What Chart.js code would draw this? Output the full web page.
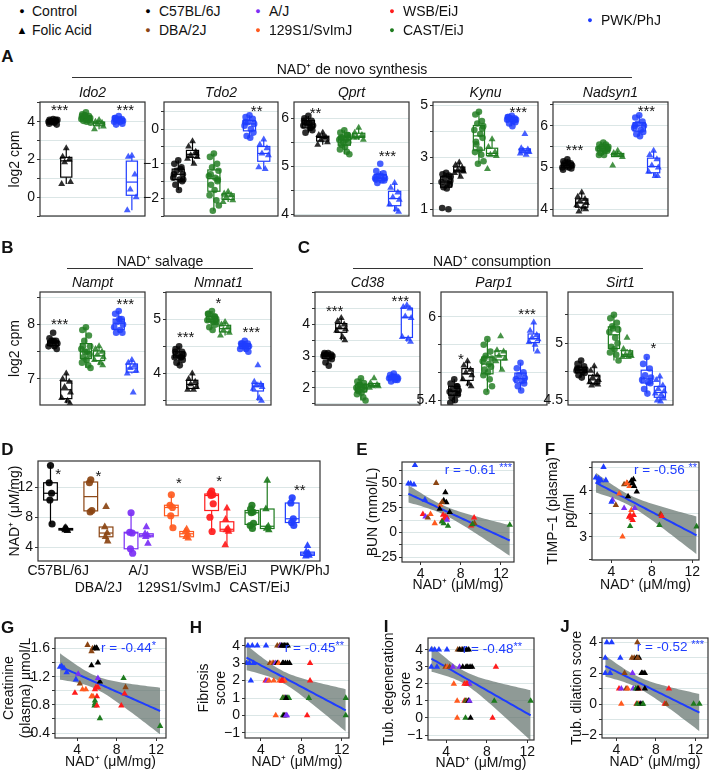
<!DOCTYPE html>
<html>
<head>
<meta charset="utf-8">
<script src="https://cdn.jsdelivr.net/npm/chart.js@4.4.1/dist/chart.umd.min.js"></script>
<style>
  body { margin: 0; width: 712px; height: 773px; position: relative; overflow: hidden; background: #fff;
         font-family: "Liberation Sans", Arial, Helvetica, sans-serif; color: #111; }
  canvas { position: absolute; }
  .t { position: absolute; white-space: nowrap; line-height: 1; }
  .rule { position: absolute; height: 0; border-top: 1.3px solid #333; }
</style>
</head>
<body>
<script>
// ---- strains ----
const STRAIN_NAMES = ['C57BL/6J', 'DBA/2J', 'A/J', '129S1/SvImJ', 'WSB/EiJ', 'CAST/EiJ', 'PWK/PhJ'];
const STRAIN_COLORS = ['#000000', '#8B4513', '#7B2FF5', '#FF5A1F', '#FF1C1C', '#1E7B1E', '#1F3DFF'];
const GENE_STRAINS = [0, 5, 6];   // C57BL/6J, CAST/EiJ, PWK/PhJ

// ---- A: NAD+ de novo synthesis (log2 cpm) ----
// group order: C57 ctrl, C57 FA, CAST ctrl, CAST FA, PWK ctrl, PWK FA
const ido2 = [
  [4.15, 4.1, 4.05, 4.0, 4.1, 4.0, 3.95, 3.85, 4.05, 4.0, 3.9, 4.1],
  [2.6, 2.15, 2.0, 1.85, 0.8, 0.7],
  [4.5, 4.4, 4.3, 4.25, 4.2, 4.15, 4.1, 4.1, 4.05, 4.0, 4.3, 4.2, 3.95, 4.35],
  [4.1, 4.0, 3.95, 3.9, 3.75, 3.6],
  [4.3, 4.2, 4.15, 4.1, 4.05, 4.0, 4.0, 3.9, 3.85, 4.1, 4.2],
  [2.2, 2.15, 1.2, 0.4, 0.0, -0.7]
];
const ido2Stars = [[1, 4.8, '***'], [3, 4.8, '***']];

const tdo2 = [
  [-0.9, -1.0, -1.1, -1.2, -1.3, -1.4, -1.45, -1.5, -1.6, -1.75, -1.3, -1.15, -1.45],
  [-0.35, -0.5, -0.65, -0.75, -0.8, -0.85, -1.0, -0.7],
  [-0.7, -0.8, -1.0, -1.1, -1.2, -1.35, -1.4, -1.45, -1.6, -1.75, -1.9, -2.05, -2.2, -2.35, -1.3, -1.5],
  [-1.8, -1.85, -1.9, -1.95, -2.05, -2.1],
  [0.4, 0.35, 0.3, 0.2, 0.15, 0.1, 0.0, -0.1, -0.2, -0.25, 0.2],
  [-0.3, -0.45, -0.55, -0.7, -0.75, -1.1, -1.15]
];
const tdo2Stars = [[3, 0.63, '**']];

const qprt = [
  [6.05, 6.0, 5.95, 5.9, 5.85, 5.85, 5.8, 5.75, 5.7, 5.9, 5.95, 5.8],
  [5.7, 5.65, 5.6, 5.55, 5.5, 5.45, 5.6],
  [5.75, 5.7, 5.65, 5.6, 5.6, 5.55, 5.55, 5.5, 5.45, 5.4, 5.35, 5.3, 5.25, 5.5, 5.6, 5.65],
  [5.8, 5.7, 5.65, 5.6, 5.55, 5.6],
  [5.05, 4.9, 4.85, 4.8, 4.75, 4.75, 4.7, 4.7, 4.65, 4.8, 4.72],
  [4.65, 4.55, 4.45, 4.35, 4.3, 4.2, 4.1, 4.05]
];
const qprtStars = [[1, 6.19, '**'], [3, 5.28, '***']];

const kynu = [
  [2.4, 2.35, 2.3, 2.2, 2.1, 2.05, 2.0, 1.95, 1.85, 1.8, 1.05, 1.0, 2.25],
  [2.8, 2.7, 2.6, 2.5, 2.45, 2.4, 2.25, 2.5],
  [4.75, 4.65, 4.4, 4.3, 4.2, 4.05, 3.9, 3.75, 3.5, 3.3, 3.2, 3.1, 2.85, 2.75, 3.6, 4.1],
  [3.7, 3.4, 3.2, 3.1, 3.05, 2.55],
  [4.6, 4.55, 4.5, 4.5, 4.45, 4.45, 4.4, 4.35, 4.3, 4.2, 4.55],
  [3.9, 3.35, 3.3, 3.25, 3.2, 3.15, 3.1]
];
const kynuStars = [[3, 4.87, '***']];

const nadsyn1 = [
  [5.2, 5.15, 5.1, 5.05, 5.05, 5.0, 5.0, 4.98, 5.1, 5.12, 4.95],
  [4.4, 4.3, 4.25, 4.2, 4.15, 4.1, 4.05, 4.0, 3.95],
  [5.6, 5.55, 5.5, 5.5, 5.45, 5.45, 5.4, 5.4, 5.35, 5.3, 5.3, 5.55, 5.5, 5.45],
  [5.4, 5.35, 5.3, 5.3, 5.25, 5.05],
  [6.25, 6.2, 6.1, 6.05, 6.0, 5.95, 5.9, 5.85, 5.8, 5.75, 6.0],
  [5.4, 5.3, 5.2, 5.05, 5.0, 4.9, 4.8, 4.8]
];
const nadsyn1Stars = [[1, 5.51, '***'], [3, 6.45, '***']];

// ---- B: NAD+ salvage ----
const nampt = [
  [7.85, 7.75, 7.7, 7.7, 7.65, 7.6, 7.6, 7.55, 7.65, 7.7],
  [7.1, 7.0, 6.95, 6.85, 6.75, 6.65, 6.6, 6.55],
  [7.95, 7.9, 7.8, 7.7, 7.6, 7.55, 7.5, 7.45, 7.4, 7.35, 7.3, 7.25, 7.2, 7.5, 7.6],
  [7.6, 7.55, 7.5, 7.45, 7.4, 7.35, 7.3, 7.25],
  [8.25, 8.2, 8.1, 8.05, 8.0, 7.95, 7.9, 7.85, 7.85, 8.1],
  [7.35, 7.3, 7.25, 7.2, 7.15, 7.1, 6.75]
];
const namptStars = [[1, 8.08, '***'], [3, 8.44, '***']];

const nmnat1 = [
  [4.5, 4.45, 4.4, 4.35, 4.35, 4.3, 4.3, 4.25, 4.2, 4.15, 4.4, 4.3],
  [4.0, 3.9, 3.85, 3.8, 3.75, 3.7, 3.7],
  [5.15, 5.1, 5.05, 5.0, 5.0, 4.98, 4.95, 4.9, 4.85, 4.8, 5.1, 5.05, 4.95],
  [4.95, 4.9, 4.85, 4.8, 4.75, 4.7],
  [4.6, 4.55, 4.55, 4.5, 4.5, 4.45, 4.45, 4.4, 4.55, 4.5],
  [4.15, 3.85, 3.8, 3.78, 3.75, 3.72, 3.55, 3.5]
];
const nmnat1Stars = [[1, 4.73, '***'], [2, 5.37, '*'], [3, 4.82, '***']];

// ---- C: NAD+ consumption ----
const cd38 = [
  [3.1, 3.1, 3.05, 3.05, 3.0, 3.0, 2.95, 2.9, 2.8, 2.7, 3.05],
  [4.2, 4.1, 4.0, 3.9, 3.85, 3.8, 3.6, 3.5],
  [2.3, 2.2, 2.15, 2.1, 2.05, 2.0, 2.0, 1.95, 1.9, 1.85, 1.8, 1.7, 1.6, 2.1, 1.95],
  [2.3, 2.15, 2.1, 2.05, 2.05, 2.0],
  [2.45, 2.4, 2.35, 2.35, 2.3, 2.3, 2.25, 2.25, 2.2, 2.35],
  [4.6, 4.55, 4.5, 4.25, 4.2, 3.6, 3.55, 3.45]
];
const cd38Stars = [[1, 4.53, '***'], [3, 4.84, '***']];

const parp1 = [
  [5.55, 5.52, 5.5, 5.48, 5.47, 5.46, 5.45, 5.44, 5.42, 5.4, 5.38, 5.5],
  [5.68, 5.65, 5.62, 5.6, 5.58, 5.55, 5.52, 5.5],
  [5.84, 5.8, 5.75, 5.72, 5.7, 5.68, 5.66, 5.64, 5.62, 5.6, 5.58, 5.55, 5.5, 5.46, 5.7],
  [5.86, 5.76, 5.75, 5.72, 5.7, 5.68, 5.62],
  [5.67, 5.63, 5.6, 5.58, 5.56, 5.55, 5.54, 5.52, 5.5, 5.47],
  [5.96, 5.9, 5.87, 5.85, 5.84, 5.82, 5.8, 5.75]
];
const parp1Stars = [[1, 5.72, '*'], [3, 6.05, '***']];

const sirt1 = [
  [4.85, 4.82, 4.8, 4.78, 4.77, 4.76, 4.75, 4.74, 4.72, 4.7, 4.78],
  [4.8, 4.76, 4.72, 4.7, 4.68, 4.66, 4.65, 4.64, 4.63],
  [5.25, 5.22, 5.18, 5.15, 5.12, 5.1, 5.05, 5.0, 4.97, 4.95, 4.92, 4.9, 4.85, 5.13],
  [5.05, 4.95, 4.92, 4.9, 4.89, 4.88, 4.88],
  [4.88, 4.82, 4.78, 4.72, 4.7, 4.68, 4.66, 4.65, 4.6, 4.56],
  [4.71, 4.68, 4.63, 4.6, 4.58, 4.56, 4.55, 4.52, 4.5, 4.49]
];
const sirt1Stars = [[3, 4.99, '*']];

// ---- D: kidney NAD+ (uM/mg), one list per strain ----
const nadCtrl = [
  [14.9, 12.6, 11.2, 10.3, 7.1],
  [13.0, 12.6, 8.9, 8.7],
  [8.6, 6.0, 5.9, 3.8, 3.2],
  [11.0, 9.6, 9.3, 8.2, 6.6],
  [11.5, 11.2, 11.0, 10.9, 9.8, 8.0, 6.1],
  [9.6, 9.1, 8.7, 8.6, 7.2, 6.9, 6.5],
  [10.6, 9.9, 7.8, 7.3, 6.9]
];
const nadFA = [
  [6.6, 6.5, 6.4, 6.3, 6.2],
  [9.4, 6.7, 5.9, 5.4, 4.8],
  [6.7, 5.8, 5.6, 5.4, 4.5],
  [6.4, 6.1, 5.8, 5.4, 5.2],
  [9.2, 7.7, 6.5, 6.3, 6.1, 4.3],
  [12.9, 9.1, 6.8, 6.5, 6.3],
  [4.2, 3.4, 3.2, 3.0, 2.9, 2.8]
];
const nadStars = [[1, 14.3, '*'], [2, 14.0, '*'], [4, 13.0, '*'], [5, 13.3, '*'], [7, 12.1, '**']];

// ---- E-J: folic acid mice, [NAD+, value, strain] ----
const bunPts = [
  [3.44, 68, 6], [2.78, 49.3, 6], [3.01, 49.3, 6], [3.34, 48.3, 6], [4.43, 33, 6],
  [5.55, 50, 1], [6.47, 40.5, 0], [6.3, 32.3, 0], [6.57, 30.3, 0], [5.97, 27.9, 3], [6.14, 30.6, 1],
  [5.9, 23.8, 0], [6.9, 20.4, 0], [4.23, 18.4, 4], [4.49, 16, 2], [4.72, 15, 1], [4.99, 18.4, 3],
  [5.41, 9.2, 3], [6.24, 17.7, 4], [6.47, 16, 4], [6.37, 13.6, 4], [6.14, 11.6, 4], [6.63, 15, 4],
  [6.14, 10.9, 5], [6.3, 9.2, 5], [6.73, 6.5, 5], [6.63, 12.6, 2],
  [9.33, 15, 4], [9.03, 6.8, 4], [9.36, 9.2, 1], [9.16, 8.2, 5], [12.88, 7.5, 5]
];
const timpPts = [
  [3.21, 4.52, 6], [2.45, 4.29, 6], [2.72, 4.27, 6], [2.95, 4.23, 6], [3.44, 4.23, 6], [2.68, 4.2, 6],
  [4.1, 3.8, 2], [4.0, 3.76, 6], [4.43, 3.69, 1], [4.76, 3.94, 3], [5.25, 3.62, 2], [5.09, 3.0, 3],
  [5.25, 4.14, 1], [5.58, 4.16, 1], [5.51, 4.17, 3], [5.78, 4.1, 3], [5.64, 3.88, 0],
  [5.97, 4.22, 0], [6.17, 4.25, 0], [6.07, 4.16, 0], [6.24, 4.1, 0], [6.5, 3.98, 0],
  [5.74, 3.43, 4], [5.97, 3.4, 4], [6.1, 3.36, 4], [6.2, 3.47, 4], [5.84, 3.47, 4], [5.97, 3.58, 3],
  [6.3, 3.62, 2], [5.84, 3.23, 5], [8.87, 3.49, 1], [8.97, 3.45, 4], [8.74, 3.25, 5], [12.42, 3.22, 5]
];
const creatPts = [
  [2.26, 1.34, 6], [2.43, 1.35, 6], [2.66, 1.32, 6], [2.93, 1.26, 6], [4.1, 1.24, 2], [3.87, 1.16, 6],
  [4.27, 1.1, 1], [3.77, 0.97, 4], [4.54, 1.02, 3], [4.88, 1.02, 3], [5.05, 1.65, 1], [5.45, 1.56, 1],
  [5.55, 1.6, 1], [5.78, 1.61, 0], [5.95, 1.61, 0], [6.0, 1.6, 0], [5.45, 1.36, 0], [6.1, 1.4, 0],
  [6.3, 1.13, 0], [6.1, 1.18, 2], [5.9, 1.05, 4], [6.1, 1.05, 4], [5.8, 1.02, 4], [5.45, 0.92, 3],
  [5.6, 0.92, 3], [6.0, 0.92, 4], [5.8, 0.86, 5], [5.8, 0.82, 5], [5.75, 0.79, 5], [6.0, 0.79, 4],
  [6.3, 0.61, 5], [8.7, 1.18, 5], [8.9, 1.05, 1], [8.8, 0.96, 4], [8.47, 0.79, 4], [12.4, 0.5, 5]
];
const fibPts = [
  [2.73, 4, 6], [3.16, 4, 6], [3.66, 4, 6], [4.52, 4, 6], [5.63, 4, 1], [5.86, 4, 1], [5.97, 4, 2],
  [6.06, 4, 0], [6.2, 4, 0], [6.35, 4, 0], [6.49, 4, 0], [6.67, 4, 0],
  [2.58, 3, 6], [2.87, 3, 6], [3.3, 3, 6], [4.9, 3, 1], [5.13, 3, 3], [5.28, 3, 1], [5.45, 3, 2],
  [5.63, 3, 0], [5.77, 3, 3], [6.15, 3, 0], [6.26, 3, 0], [6.44, 3, 0], [6.64, 3, 0], [6.84, 3, 0], [8.87, 3, 4],
  [3.02, 2, 6], [4.47, 2, 4], [4.61, 2, 2], [4.81, 2, 3], [5.28, 2, 3], [5.86, 2, 3], [6.06, 2, 4],
  [6.2, 2, 4], [6.35, 2, 3], [6.1, 2, 4], [8.87, 2, 4],
  [6.15, 1, 5], [6.29, 1, 4], [6.44, 1, 2], [6.64, 1, 5], [6.78, 1, 5], [6.3, 1, 5], [6.5, 1, 0],
  [8.75, 1, 5], [12.4, 1, 5],
  [5.48, 0, 3], [6.2, 0, 5], [6.4, 0, 1], [6.58, 0, 2], [6.3, 0, 0], [6.5, 0, 2], [8.58, 0, 4], [12.4, 0, 5]
];
const degPts = [
  [2.53, 4, 6], [2.86, 4, 6], [3.28, 4, 6], [4.07, 4, 6], [5.14, 4, 1], [5.47, 4, 1], [5.31, 4, 0],
  [5.63, 4, 0], [5.8, 4, 0], [6.03, 4, 0], [6.22, 4, 0],
  [2.53, 3, 6], [3.08, 3, 6], [3.93, 3, 1], [4.1, 3, 3], [4.33, 3, 1], [4.65, 3, 2], [5.31, 3, 2],
  [5.63, 3, 0], [5.96, 3, 0], [6.12, 3, 0], [6.35, 3, 0], [6.55, 3, 0], [8.9, 3, 4],
  [4.75, 2, 3], [5.8, 2, 4], [5.96, 2, 3], [6.1, 2, 4], [6.29, 2, 2], [6.0, 2, 4],
  [5.08, 1, 3], [5.8, 1, 4], [5.9, 1, 5], [6.03, 1, 1], [6.22, 1, 5], [6.2, 1, 0], [6.3, 1, 2],
  [8.74, 1, 5], [12.33, 1, 5],
  [5.08, 0, 3], [5.9, 0, 5], [6.4, 0, 0], [8.57, 0, 4]
];
const dilPts = [
  [3.02, 4, 6], [3.51, 4, 6], [6.12, 4, 1],
  [2.86, 3, 6], [4.39, 3, 6], [5.57, 3, 1], [5.8, 3, 1], [6.03, 3, 0], [6.29, 3, 0], [6.15, 3, 1],
  [2.86, 2, 6], [3.35, 2, 6], [4.82, 2, 1], [5.63, 2, 2], [6.55, 2, 0], [6.68, 2, 0], [6.88, 2, 0],
  [4.26, 1, 4], [4.49, 1, 2], [4.98, 1, 1], [5.14, 1, 3], [5.7, 1, 2], [5.96, 1, 5], [6.12, 1, 5],
  [6.29, 1, 4], [6.2, 1, 0], [6.88, 1, 0], [9.33, 1, 4],
  [4.49, 0, 3], [6.03, 0, 4], [6.22, 0, 3], [6.45, 0, 2], [6.6, 0, 0], [6.4, 0, 0], [6.1, 0, 5],
  [6.71, 0, 5], [8.9, 0, 4], [9.05, 0, 1], [11.84, 0, 5], [12.43, 0, 5]
];

// fixed horizontal jitter pattern for the dot strips
const JIT = [0.0, -0.11, 0.09, -0.05, 0.13, -0.14, 0.04, 0.11, -0.08, 0.02, -0.12, 0.07, 0.14, -0.03, -0.09, 0.10];

const FONT = '"Liberation Sans", Arial, Helvetica, sans-serif';
const GRID = '#dbe6e6';
const FIT_BLUE = '#1f3dff';
const BAND = 'rgba(100, 115, 110, 0.72)';
Chart.defaults.font.family = FONT;
Chart.defaults.color = '#111';

// ---------- helpers ----------
function hexA(hex, a) {
  const n = parseInt(hex.slice(1), 16);
  return `rgba(${n >> 16}, ${(n >> 8) & 255}, ${n & 255}, ${a})`;
}
function quant(s, p) {
  const h = (s.length - 1) * p, lo = Math.floor(h);
  const hi = Math.min(lo + 1, s.length - 1);
  return s[lo] + (h - lo) * (s[hi] - s[lo]);
}
function zeroPad(s) { s.paddingTop = 0; s.paddingBottom = 0; s.paddingLeft = 0; s.paddingRight = 0; }
function tickText(v, labels) {
  const hit = labels.find(l => Math.abs(l - v) < 1e-6);
  return hit === undefined ? '' : String(hit).replace('-', '\u2212');
}
function addCanvas(rect, m) {
  const c = document.createElement('canvas');
  const w = rect.w + m.l + m.r, h = rect.h + m.t + m.b;
  c.width = w; c.height = h;
  c.style.left = (rect.x - m.l) + 'px';
  c.style.top = (rect.y - m.t) + 'px';
  c.style.width = w + 'px'; c.style.height = h + 'px';
  document.body.appendChild(c);
  return c;
}
function text(str, x, y, o = {}) {
  const d = document.createElement('div');
  d.className = 't';
  d.textContent = str;
  d.style.left = x + 'px'; d.style.top = y + 'px';
  d.style.fontSize = (o.size || 14) + 'px';
  if (o.bold) d.style.fontWeight = 'bold';
  if (o.italic) d.style.fontStyle = 'italic';
  if (o.color) d.style.color = o.color;
  const ax = o.align === 'center' ? '-50%' : (o.align === 'right' ? '-100%' : '0');
  d.style.transform = `translate(${ax}, -50%)`;
  document.body.appendChild(d);
}
function rule(x1, x2, y) {
  const d = document.createElement('div');
  d.className = 'rule';
  d.style.left = x1 + 'px'; d.style.top = y + 'px'; d.style.width = (x2 - x1) + 'px';
  document.body.appendChild(d);
}

// boxes, significance stars, r label and panel frame
function panelPlugin(spec) {
  return {
    id: 'panel_' + spec.id,
    beforeDatasetsDraw(chart) {
      const { ctx, scales: { x, y } } = chart;
      (spec.boxes || []).forEach(b => {
        const s = b.vals.slice().sort((p, q) => p - q);
        const q1 = quant(s, 0.25), md = quant(s, 0.5), q3 = quant(s, 0.75), iqr = q3 - q1;
        const lo = Math.min(...s.filter(v => v >= q1 - 1.5 * iqr));
        const hi = Math.max(...s.filter(v => v <= q3 + 1.5 * iqr));
        const xl = x.getPixelForValue(b.x - b.hw), xr = x.getPixelForValue(b.x + b.hw);
        const xc = x.getPixelForValue(b.x);
        const yt = y.getPixelForValue(q3), yb = y.getPixelForValue(q1), ym = y.getPixelForValue(md);
        ctx.save();
        ctx.strokeStyle = b.color;
        ctx.lineWidth = 1.2;
        ctx.beginPath();
        ctx.moveTo(xc, y.getPixelForValue(hi)); ctx.lineTo(xc, yt);
        ctx.moveTo(xc, yb); ctx.lineTo(xc, y.getPixelForValue(lo));
        ctx.stroke();
        ctx.fillStyle = '#fff';
        ctx.fillRect(xl, yt, xr - xl, yb - yt);
        ctx.strokeRect(xl, yt, xr - xl, yb - yt);
        ctx.beginPath(); ctx.moveTo(xl, ym); ctx.lineTo(xr, ym); ctx.stroke();
        ctx.restore();
      });
    },
    afterDatasetsDraw(chart) {
      const { ctx, chartArea: a, scales: { x, y } } = chart;
      ctx.save();
      ctx.fillStyle = '#111';
      ctx.textAlign = 'center';
      ctx.textBaseline = 'alphabetic';
      ctx.font = `15px ${FONT}`;
      (spec.stars || []).forEach(([sx, sy, t]) => {
        ctx.fillText(t, x.getPixelForValue(sx), y.getPixelForValue(sy) + 8.5);
      });
      if (spec.note) {
        const [rTxt, sig, dx, dy] = spec.note;
        const right = a.right - dx;
        ctx.fillStyle = FIT_BLUE;
        ctx.textAlign = 'right';
        ctx.textBaseline = 'middle';
        ctx.font = `11px ${FONT}`;
        const sw = ctx.measureText(sig).width;
        ctx.fillText(sig, right, a.top + dy - 2);
        ctx.font = `13.5px ${FONT}`;
        ctx.fillText(rTxt, right - sw, a.top + dy);
      }
      ctx.restore();
    },
    afterDraw(chart) {
      const { ctx, chartArea: a } = chart;
      ctx.save();
      ctx.strokeStyle = '#333';
      ctx.lineWidth = 1.2;
      ctx.strokeRect(a.left, a.top, a.right - a.left, a.bottom - a.top);
      ctx.restore();
    }
  };
}

function yScale(p, m) {
  return {
    type: 'linear', position: 'left', min: p.yMin, max: p.yMax,
    afterFit: s => { s.width = m.l; zeroPad(s); },
    border: { display: false },
    grid: { color: GRID, lineWidth: 1, tickColor: '#333', tickLength: 3 },
    ticks: {
      stepSize: p.step, includeBounds: false, autoSkip: false, padding: 2, color: '#111',
      font: { size: 14 }, callback: v => tickText(v, p.labels)
    },
    title: p.yTitle ? {
      display: true, text: p.yTitle, color: '#111', font: { size: 14 },
      padding: { top: Math.max(0, p.yTitleX - (p.rect.x - m.l) - 8.4), bottom: 0 }
    } : { display: false }
  };
}

// ---------- A-C: gene expression strips ----------
function geneChart(p) {
  const m = { l: p.ml || 32, r: 4, t: 12, b: 3 };
  const canvas = addCanvas(p.rect, m);
  const boxes = [];
  const datasets = p.groups.map((vals, k) => {
    const strain = GENE_STRAINS[Math.floor(k / 2)], fa = k % 2 === 1;
    const cx = Math.floor(k / 2) + 1 + (fa ? 0.2 : -0.2);
    boxes.push({ x: cx, hw: 0.17, color: STRAIN_COLORS[strain], vals });
    return {
      data: vals.map((v, i) => ({ x: cx + JIT[i % JIT.length], y: v })),
      pointStyle: fa ? 'triangle' : 'circle',
      pointRadius: fa ? 4 : 3.3,
      borderWidth: 0,
      backgroundColor: hexA(STRAIN_COLORS[strain], 0.82)
    };
  });
  new Chart(canvas, {
    type: 'scatter',
    data: { datasets },
    options: {
      responsive: false, animation: false, events: [],
      layout: { padding: { left: 0, right: m.r, top: m.t, bottom: m.b } },
      plugins: { legend: { display: false }, tooltip: { enabled: false } },
      scales: {
        x: { type: 'linear', min: 0.4, max: 3.6, display: false },
        y: yScale(p, m)
      }
    },
    plugins: [panelPlugin({ id: p.id, boxes, stars: p.stars })]
  });
  text(p.title, p.rect.x + p.rect.w / 2, p.rect.y - 10, { italic: true, align: 'center' });
}

const genePanels = [
  { id: 'ido2', title: 'Ido2', rect: { x: 40, y: 102, w: 105, h: 115 }, yMin: -1.0, yMax: 5.05, step: 1,
    labels: [0, 2, 4], groups: ido2, stars: ido2Stars, yTitle: 'log2 cpm', yTitleX: 15, ml: 40 },
  { id: 'tdo2', title: 'Tdo2', rect: { x: 164, y: 102, w: 114, h: 115 }, yMin: -2.5, yMax: 0.78, step: 0.5,
    labels: [0, -1, -2], groups: tdo2, stars: tdo2Stars },
  { id: 'qprt', title: 'Qprt', rect: { x: 294, y: 102, w: 115, h: 115 }, yMin: 3.96, yMax: 6.34, step: 0.5,
    labels: [4, 5, 6], groups: qprt, stars: qprtStars },
  { id: 'kynu', title: 'Kynu', rect: { x: 433, y: 102, w: 105, h: 115 }, yMin: 0.74, yMax: 5.13, step: 1,
    labels: [1, 3, 5], groups: kynu, stars: kynuStars },
  { id: 'nadsyn1', title: 'Nadsyn1', rect: { x: 553, y: 102, w: 115, h: 115 }, yMin: 3.84, yMax: 6.57, step: 0.5,
    labels: [4, 5, 6], groups: nadsyn1, stars: nadsyn1Stars },
  { id: 'nampt', title: 'Nampt', rect: { x: 40, y: 292, w: 105, h: 114 }, yMin: 6.52, yMax: 8.6, step: 0.5,
    labels: [7, 8], groups: nampt, stars: namptStars, yTitle: 'log2 cpm', yTitleX: 15, ml: 40 },
  { id: 'nmnat1', title: 'Nmnat1', rect: { x: 166, y: 292, w: 105, h: 114 }, yMin: 3.42, yMax: 5.5, step: 0.5,
    labels: [4, 5], groups: nmnat1, stars: nmnat1Stars },
  { id: 'cd38', title: 'Cd38', rect: { x: 315, y: 292, w: 105, h: 114 }, yMin: 1.46, yMax: 5.02, step: 0.5,
    labels: [2, 3, 4], groups: cd38, stars: cd38Stars },
  { id: 'parp1', title: 'Parp1', rect: { x: 441, y: 292, w: 106, h: 114 }, yMin: 5.365, yMax: 6.18, step: 0.2,
    labels: [5.4, 6], groups: parp1, stars: parp1Stars },
  { id: 'sirt1', title: 'Sirt1', rect: { x: 568, y: 292, w: 105, h: 114 }, yMin: 4.46, yMax: 5.45, step: 0.25,
    labels: [4.5, 5], groups: sirt1, stars: sirt1Stars }
];
genePanels.forEach(geneChart);

// ---------- D: NAD+ per strain ----------
(function () {
  const rect = { x: 38, y: 461, w: 282, h: 100 };
  const m = { l: 38, r: 24, t: 10, b: 34 };
  const p = { rect, yMin: 2.17, yMax: 15.5, step: 4, labels: [4, 8, 12], yTitle: 'NAD\u207A (\u03BCM/mg)', yTitleX: 15 };
  const canvas = addCanvas(rect, m);
  const boxes = [], datasets = [];
  [nadCtrl, nadFA].forEach((set, fa) => {
    set.forEach((vals, s) => {
      const cx = s + 1 + (fa ? 0.19 : -0.19);
      boxes.push({ x: cx, hw: 0.17, color: STRAIN_COLORS[s], vals });
      datasets.push({
        data: vals.map((v, i) => ({ x: cx + JIT[i % JIT.length] * 0.3, y: v })),
        pointStyle: fa ? 'triangle' : 'circle',
        pointRadius: fa ? 4.4 : 3.6,
        borderWidth: 0,
        backgroundColor: hexA(STRAIN_COLORS[s], 0.92)
      });
    });
  });
  new Chart(canvas, {
    type: 'scatter',
    data: { datasets },
    options: {
      responsive: false, animation: false, events: [],
      layout: { padding: { left: 0, right: m.r, top: m.t, bottom: 0 } },
      plugins: { legend: { display: false }, tooltip: { enabled: false } },
      scales: {
        x: {
          type: 'linear', min: 0.5, max: 7.5,
          afterBuildTicks: s => { s.ticks = STRAIN_NAMES.map((n, i) => ({ value: i + 1 })); },
          afterFit: s => { s.height = m.b; zeroPad(s); },
          border: { display: false },
          grid: { drawOnChartArea: false, drawTicks: false },
          ticks: {
            autoSkip: false, maxRotation: 0, minRotation: 0,
            padding: 2, color: '#111', font: { size: 14 },
            callback: (v, i) => (i % 2 === 0 ? STRAIN_NAMES[i] : ['', STRAIN_NAMES[i]])
          }
        },
        y: yScale(p, m)
      }
    },
    plugins: [panelPlugin({ id: 'nad', boxes, stars: nadStars })]
  });
})();

// ---------- E-J: correlations with NAD+ ----------
function fitBand(pts) {
  const n = pts.length;
  const mx = pts.reduce((s, q) => s + q[0], 0) / n;
  const my = pts.reduce((s, q) => s + q[1], 0) / n;
  let sxx = 0, sxy = 0;
  pts.forEach(q => { sxx += (q[0] - mx) ** 2; sxy += (q[0] - mx) * (q[1] - my); });
  const b = sxy / sxx, a = my - b * mx;
  const sse = pts.reduce((s, q) => s + (q[1] - a - b * q[0]) ** 2, 0);
  const se = Math.sqrt(sse / (n - 2)), t = 2.03;
  const x0 = Math.min(...pts.map(q => q[0])), x1 = Math.max(...pts.map(q => q[0]));
  const line = [], up = [], lo = [];
  for (let i = 0; i <= 40; i++) {
    const x = x0 + (x1 - x0) * i / 40, yh = a + b * x;
    const w = t * se * Math.sqrt(1 / n + (x - mx) ** 2 / sxx);
    line.push({ x, y: yh }); up.push({ x, y: yh + w }); lo.push({ x, y: yh - w });
  }
  return { line, up, lo };
}

function regChart(p) {
  const m = p.m;
  const canvas = addCanvas(p.rect, m);
  const fit = fitBand(p.pts);
  const canvasBottom = p.rect.y + p.rect.h + m.b;
  new Chart(canvas, {
    type: 'scatter',
    data: {
      datasets: [
        { data: p.pts.map(q => ({ x: q[0], y: q[1] })), pointStyle: 'triangle', pointRadius: 3.7,
          borderWidth: 0, backgroundColor: p.pts.map(q => STRAIN_COLORS[q[2]]) },
        { type: 'line', data: fit.line, borderColor: FIT_BLUE, borderWidth: 2, pointRadius: 0, fill: false },
        { type: 'line', data: fit.up, borderWidth: 0, pointRadius: 0, fill: '+1', backgroundColor: BAND },
        { type: 'line', data: fit.lo, borderWidth: 0, pointRadius: 0, fill: false }
      ]
    },
    options: {
      responsive: false, animation: false, events: [],
      layout: { padding: { left: 0, right: m.r, top: m.t, bottom: 0 } },
      plugins: { legend: { display: false }, tooltip: { enabled: false } },
      scales: {
        x: {
          type: 'linear', min: p.xMin, max: p.xMax,
          afterFit: s => { s.height = m.b; zeroPad(s); },
          border: { display: false },
          grid: { drawOnChartArea: false, tickColor: '#333', tickLength: 3 },
          ticks: { stepSize: 4, includeBounds: false, autoSkip: false, maxRotation: 0, padding: 1,
                   color: '#111', font: { size: 14 } },
          title: { display: true, text: 'NAD\u207A (\u03BCM/mg)', color: '#111', font: { size: 14 },
                   padding: { top: 0, bottom: Math.max(0, canvasBottom - p.xTitleY - 8.4) } }
        },
        y: yScale(p, m)
      }
    },
    plugins: [panelPlugin({ id: p.id, note: p.note })]
  });
}

const regPanels = [
  { id: 'bun', pts: bunPts, rect: { x: 402, y: 462, w: 113, h: 100 }, m: { l: 50, r: 3, t: 10, b: 34 },
    xMin: 2.15, xMax: 13.3, yMin: -30, yMax: 71.3, step: 12.5, labels: [-25, 0, 25, 50],
    yTitle: 'BUN (mmol/L)', yTitleX: 373, xTitleY: 585, note: ['r = -0.61 ', '***', 2, 8] },
  { id: 'timp', pts: timpPts, rect: { x: 592, y: 462, w: 108, h: 98 }, m: { l: 50, r: 3, t: 10, b: 36 },
    xMin: 2.07, xMax: 12.66, yMin: 2.49, yMax: 4.63, step: 0.5, labels: [3, 4],
    yTitle: ['TIMP\u22121 (plasma)', 'pg/ml'], yTitleX: 553, xTitleY: 585, note: ['r = -0.56 ', '**', 2, 8] },
  { id: 'creat', pts: creatPts, rect: { x: 55, y: 638, w: 112, h: 100 }, m: { l: 55, r: 3, t: 10, b: 34 },
    xMin: 1.75, xMax: 13.0, yMin: 0.33, yMax: 1.75, step: 0.2, labels: [0.4, 0.8, 1.2, 1.6],
    yTitle: ['Creatinine', '(plasma) \u03BCmol/L'], yTitleX: 9, xTitleY: 762, note: ['r = -0.44', '*', 10, 10] },
  { id: 'fib', pts: fibPts, rect: { x: 245, y: 638, w: 105, h: 100 }, m: { l: 50, r: 3, t: 10, b: 34 },
    xMin: 2.44, xMax: 12.72, yMin: -1.29, yMax: 4.44, step: 1, labels: [-1, 0, 1, 2, 3, 4],
    yTitle: ['Fibrosis', 'score'], yTitleX: 204, xTitleY: 762, note: ['r = -0.45', '**', 5, 10] },
  { id: 'deg', pts: degPts, rect: { x: 428, y: 638, w: 107, h: 102 }, m: { l: 48, r: 3, t: 10, b: 32 },
    xMin: 2.2, xMax: 12.66, yMin: -1.29, yMax: 4.69, step: 1, labels: [-1, 0, 1, 2, 3, 4],
    yTitle: ['Tub. degeneration', 'score'], yTitleX: 389, xTitleY: 763, note: ['r = -0.48', '**', 12, 11] },
  { id: 'dil', pts: dilPts, rect: { x: 602, y: 638, w: 108, h: 100 }, m: { l: 35, r: 2, t: 10, b: 34 },
    xMin: 2.53, xMax: 13.3, yMin: -2.21, yMax: 4.29, step: 1, labels: [-2, 0, 2, 4],
    yTitle: 'Tub. dilation score', yTitleX: 577, xTitleY: 762, note: ['r = -0.52 ', '***', 4, 9] }
];
regPanels.forEach(regChart);

// ---------- titles, panel letters, legend ----------
text('NAD\u207A de novo synthesis', 352, 69, { align: 'center' });
rule(72, 632, 77);
text('NAD\u207A salvage', 160, 261, { align: 'center' });
rule(67, 253, 268);
text('NAD\u207A consumption', 492, 261, { align: 'center' });
rule(353, 643, 268);

[['A', 7.5, 56], ['B', 7.5, 247], ['C', 304, 247], ['D', 7.5, 449], ['E', 362, 449], ['F', 550, 449],
 ['G', 7.5, 627], ['H', 196, 627], ['I', 386, 626], ['J', 565, 626]]
  .forEach(([l, x, y]) => text(l, x, y, { size: 17, bold: true, align: 'center' }));

const legendItems = [
  ['\u25CF', '#000', 'Control', 22, 32, 11],
  ['\u25B2', '#000', 'Folic Acid', 22, 32, 30],
  ['\u25CF', STRAIN_COLORS[0], STRAIN_NAMES[0], 148, 159, 11],
  ['\u25CF', STRAIN_COLORS[1], STRAIN_NAMES[1], 148, 159, 30],
  ['\u25CF', STRAIN_COLORS[2], STRAIN_NAMES[2], 258, 269, 11],
  ['\u25CF', STRAIN_COLORS[3], STRAIN_NAMES[3], 258, 269, 30],
  ['\u25CF', STRAIN_COLORS[4], STRAIN_NAMES[4], 392, 403, 11],
  ['\u25CF', STRAIN_COLORS[5], STRAIN_NAMES[5], 392, 403, 30],
  ['\u25CF', STRAIN_COLORS[6], STRAIN_NAMES[6], 590, 601, 20]
];
legendItems.forEach(([sym, col, name, sx, tx, y]) => {
  text(sym, sx, y, { size: sym === '\u25B2' ? 11 : 9, color: col, align: 'center' });
  text(name, tx, y, { size: 14 });
});
</script>
</body>
</html>
